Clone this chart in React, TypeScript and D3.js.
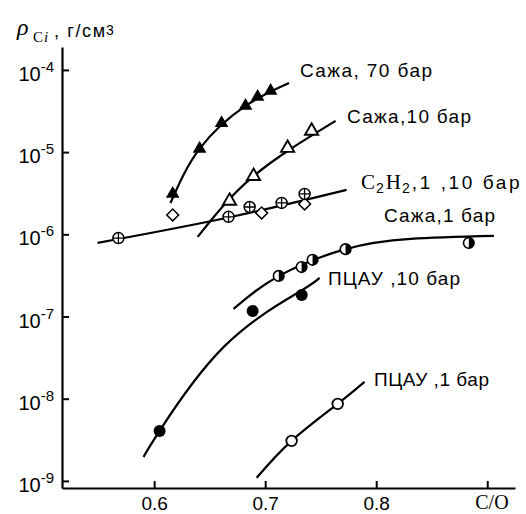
import React, { useEffect, useRef } from 'react';
import * as d3 from 'd3';

const WIDTH = 526;
const HEIGHT = 514;
const SANS = '"Liberation Sans", Arial, sans-serif';
const SERIF = '"Liberation Serif", "Times New Roman", serif';

// axis ticks
const X_TICKS = [0.6, 0.7, 0.8, 0.9];
const X_TICK_LABELS = ['0.6', '0.7', '0.8', ''];
const Y_TICK_EXP = [-9, -8, -7, -6, -5, -4];

// Сажа, 70 бар (filled triangles)
const SOOT70_X = [0.6167, 0.6409, 0.6607, 0.6823, 0.6932, 0.7049];
const SOOT70_Y = [3.1e-6, 1.1e-5, 2.26e-5, 3.65e-5, 4.7e-5, 5.55e-5];
const SOOT70_FIT_X = [0.6147, 0.641, 0.6823, 0.7215];
const SOOT70_FIT_Y = [2.4e-6, 1.1e-5, 3.65e-5, 6.95e-5];

// Сажа, 10 бар (open triangles)
const SOOT10_X = [0.6679, 0.6895, 0.7202, 0.7418];
const SOOT10_Y = [2.55e-6, 5.1e-6, 1.12e-5, 1.81e-5];
const SOOT10_FIT_X = [0.6392, 0.6895, 0.7634];
const SOOT10_FIT_Y = [9.3e-7, 5.1e-6, 2.4e-5];

// C2H2, 1 бар (crossed circles) and 10 бар (diamonds)
const C2H2_1_X = [0.5678, 0.667, 0.686, 0.7148, 0.7355];
const C2H2_1_Y = [9.0e-7, 1.63e-6, 2.15e-6, 2.41e-6, 3.1e-6];
const C2H2_10_X = [0.6167, 0.6968, 0.7355];
const C2H2_10_Y = [1.72e-6, 1.82e-6, 2.34e-6];
const C2H2_FIT_X = [0.549, 0.667, 0.7733];
const C2H2_FIT_Y = [7.85e-7, 1.6e-6, 3.47e-6];

// Сажа, 1 бар (half-filled circles)
const SOOT1_X = [0.7122, 0.7328, 0.7427, 0.7724, 0.8834];
const SOOT1_Y = [3.12e-7, 4.0e-7, 4.9e-7, 6.6e-7, 7.85e-7];
const SOOT1_FIT_X = [0.6715, 0.7122, 0.7724, 0.8311, 0.906];
const SOOT1_FIT_Y = [1.24e-7, 3.1e-7, 6.6e-7, 8.8e-7, 9.55e-7];

// ПЦАУ, 10 бар (filled circles)
const PAH10_X = [0.6049, 0.6887, 0.7329];
const PAH10_Y = [4.06e-9, 1.17e-7, 1.83e-7];
const PAH10_FIT_X = [0.5905, 0.6049, 0.6627, 0.7292, 0.749];
const PAH10_FIT_Y = [1.96e-9, 4.06e-9, 4.27e-8, 1.94e-7, 2.95e-7];

// ПЦАУ, 1 бар (open circles)
const PAH1_X = [0.7238, 0.7653];
const PAH1_Y = [3.07e-9, 8.65e-9];
const PAH1_FIT_X = [0.6923, 0.7238, 0.7653, 0.7895];
const PAH1_FIT_Y = [1.09e-9, 3.07e-9, 8.65e-9, 1.6e-8];

const LABEL_TEXTS = ['Сажа, 70 бар', 'Сажа,10 бар', 'Сажа,1 бар', 'ПЦАУ ,10  бар', 'ПЦАУ ,1 бар'];
// label layout: left x, baseline y, width
const LABEL_POS = [[300, 77, 132], [347, 123, 124], [384, 222, 111], [328, 285, 132], [374, 386, 115]];

const zip = (xs: number[], ys: number[]): [number, number][] => xs.map((v, i) => [v, ys[i]]);

export default function App() {
    const ref = useRef<SVGSVGElement>(null);

    useEffect(() => {
        if (!ref.current) return;
        const svg = d3.select(ref.current);
        svg.selectAll('*').remove();

        const x = d3.scaleLinear().domain([0.517, 0.925]).range([62, 515]);
        const y = d3.scaleLog().domain([8.2e-10, 1.9e-4]).range([488, 47]);

        // axes
        const gx = svg.append('g')
            .attr('transform', `translate(0, ${y.range()[0]})`)
            .call(d3.axisBottom(x).tickValues(X_TICKS).tickSizeInner(-7).tickSizeOuter(0).tickPadding(9)
                .tickFormat((_, i) => X_TICK_LABELS[i]));
        gx.selectAll('text').attr('font-size', 19).attr('font-family', SANS).attr('fill', '#000');
        gx.append('text')
            .attr('x', x(0.9) - 12).attr('y', 21)
            .attr('font-family', SERIF).attr('font-size', 20).attr('fill', '#000')
            .attr('text-anchor', 'start')
            .text('C/O');

        const gy = svg.append('g')
            .attr('transform', `translate(${x.range()[0]}, 0)`)
            .call(d3.axisLeft(y).tickValues(Y_TICK_EXP.map(e => Math.pow(10, e))).tickSizeInner(-7).tickSizeOuter(0)
                .tickFormat(() => ''));
        gy.selectAll('.tick text').remove();
        [gx, gy].forEach(g => {
            g.select('.domain').attr('stroke-width', 2.2);
            g.selectAll('.tick line').attr('stroke-width', 2);
        });

        Y_TICK_EXP.forEach(e => {
            const t = svg.append('text')
                .attr('x', 54).attr('y', y(Math.pow(10, e)) + 11)
                .attr('text-anchor', 'end')
                .attr('font-family', SANS);
            t.append('tspan').attr('font-size', 20).text('10');
            t.append('tspan').attr('font-size', 15).attr('dy', -9).text(`-${-e}`);
        });

        // title
        const title = svg.append('g').attr('font-family', SERIF);
        title.append('text').attr('x', 17).attr('y', 35).attr('font-size', 24).attr('font-style', 'italic').text('ρ');
        title.append('text').attr('x', 33).attr('y', 42).attr('font-size', 15).text('C');
        title.append('text').attr('x', 44).attr('y', 42).attr('font-size', 15).attr('font-style', 'italic').text('i');
        svg.append('text').attr('x', 54).attr('y', 37).attr('font-family', SANS).attr('font-size', 18)
            .attr('textLength', 51).text(', г/см');
        svg.append('text').attr('x', 106).attr('y', 35).attr('font-family', SANS).attr('font-size', 14).text('3');

        // fitted curves
        const line = d3.line<[number, number]>()
            .x(d => x(d[0])).y(d => y(d[1]))
            .curve(d3.curveNatural);
        const fits = [
            zip(SOOT70_FIT_X, SOOT70_FIT_Y),
            zip(SOOT10_FIT_X, SOOT10_FIT_Y),
            zip(C2H2_FIT_X, C2H2_FIT_Y),
            zip(SOOT1_FIT_X, SOOT1_FIT_Y),
            zip(PAH10_FIT_X, PAH10_FIT_Y),
            zip(PAH1_FIT_X, PAH1_FIT_Y),
        ];
        svg.append('g').selectAll('path')
            .data(fits)
            .join('path')
            .attr('d', d => line(d))
            .attr('fill', 'none')
            .attr('stroke', '#000')
            .attr('stroke-width', 2.2);

        const place = (xs: number[], ys: number[]) => svg.append('g')
            .selectAll('g')
            .data(zip(xs, ys))
            .join('g')
            .attr('transform', d => `translate(${x(d[0])}, ${y(d[1])})`);

        const tri = d3.symbol(d3.symbolTriangle, 80)();
        place(SOOT70_X, SOOT70_Y).append('path').attr('d', tri).attr('fill', '#000');

        const triOpen = d3.symbol(d3.symbolTriangle, 75)();
        place(SOOT10_X, SOOT10_Y).append('path').attr('d', triOpen)
            .attr('fill', '#fff').attr('stroke', '#000').attr('stroke-width', 1.9);

        const dia = place(C2H2_10_X, C2H2_10_Y);
        dia.append('rect').attr('x', -4.2).attr('y', -4.2).attr('width', 8.4).attr('height', 8.4)
            .attr('transform', 'rotate(45)')
            .attr('fill', '#fff').attr('stroke', '#000').attr('stroke-width', 1.5);

        const cross = place(C2H2_1_X, C2H2_1_Y);
        cross.append('circle').attr('r', 5.5).attr('fill', '#fff').attr('stroke', '#000').attr('stroke-width', 1.5);
        cross.append('path').attr('d', 'M-5.5,0H5.5M0,-5.5V5.5').attr('stroke', '#000').attr('stroke-width', 1.3);

        const half = place(SOOT1_X, SOOT1_Y);
        half.append('circle').attr('r', 5.3).attr('fill', '#fff').attr('stroke', '#000').attr('stroke-width', 1.6);
        half.append('path').attr('d', 'M0,-5.3A5.3,5.3 0 0 1 0,5.3Z').attr('fill', '#000');

        place(PAH10_X, PAH10_Y).append('circle').attr('r', 6).attr('fill', '#000');

        place(PAH1_X, PAH1_Y).append('circle').attr('r', 5.3)
            .attr('fill', '#fff').attr('stroke', '#000').attr('stroke-width', 1.8);

        // series labels
        LABEL_TEXTS.forEach((txt, i) => {
            const [lx, ly, lw] = LABEL_POS[i];
            svg.append('text')
                .attr('x', lx).attr('y', ly)
                .attr('font-family', SANS).attr('font-size', 19)
                .attr('textLength', lw)
                .text(txt);
        });

        // C2H2 label with subscripts
        const c = svg.append('text').attr('x', 361).attr('y', 189).attr('font-size', 21);
        c.append('tspan').attr('font-family', SERIF).text('C');
        c.append('tspan').attr('font-family', SANS).attr('font-size', 14).attr('dy', 4).attr('dx', 1).text('2');
        c.append('tspan').attr('font-family', SERIF).attr('dy', -4).attr('dx', 2).text('H');
        c.append('tspan').attr('font-family', SANS).attr('font-size', 14).attr('dy', 4).attr('dx', 1).text('2');
        c.append('tspan').attr('font-family', SANS).attr('font-size', 19).attr('dy', -4).attr('dx', 2).attr('letter-spacing', 2.6).text(',1 ,10 бар');

        return () => {
            svg.selectAll('*').remove();
        };
    }, []);

    return (
        <svg ref={ref} width={WIDTH} height={HEIGHT}
            style={{ position: 'absolute', left: 0, top: 0, background: '#fff' }} />
    );
}
